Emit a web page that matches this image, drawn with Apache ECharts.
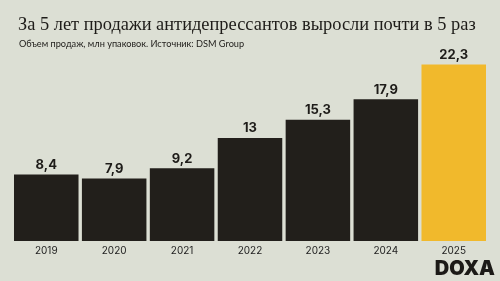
<!DOCTYPE html>
<html><head><meta charset="utf-8">
<script src="https://cdn.jsdelivr.net/npm/echarts@6/dist/echarts.min.js"></script>
<style>html,body{margin:0;padding:0;background:#dcdfd4;}#c{width:500px;height:281px;}</style>
</head><body><div id="c"></div>
<script>
const categories = ['2019','2020','2021','2022','2023','2024','2025'];
const values = [8.4, 7.9, 9.2, 13, 15.3, 17.9, 22.3];
const labels = ['8,4','7,9','9,2','13','15,3','17,9','22,3'];
const title = 'За 5 лет продажи антидепрессантов выросли почти в 5 раз';
const subtitle = 'Объем продаж, млн упаковок. Источник: DSM Group';

const chart = echarts.init(document.getElementById('c'), null, {renderer:'canvas'});
chart.setOption({
  backgroundColor: '#dcdfd4',
  animation: false,
  title: [
    {text: title, left: 13, top: 11, textStyle: {fontFamily: 'Liberation Serif', fontWeight: 'normal', fontSize: 18.4, color: '#1e1c19'}},
    {text: subtitle, left: 14, top: 35, textStyle: {fontFamily: 'Lato', fontWeight: 'normal', fontSize: 9.2, color: '#1e1c19'}}
  ],
  grid: {left: 12.3, right: 12.3, top: 43, bottom: 40},
  xAxis: {type: 'category', data: categories,
    axisLine: {show: false}, axisTick: {show: false},
    axisLabel: {color: '#222', fontSize: 10, fontFamily: 'Inter', margin: 5}},
  yAxis: {type: 'value', min: 0, max: 25, show: false, splitLine: {show: false}},
  series: [{
    type: 'bar', barCategoryGap: '5%',
    data: values.map((v, i) => ({value: v, itemStyle: {color: i === values.length - 1 ? '#f1b92c' : '#221f1b'}})),
    label: {show: true, position: 'top', distance: 3,
      formatter: p => labels[p.dataIndex],
      fontFamily: 'Inter', fontWeight: 'bold', fontSize: 13, color: '#1e1c19'}
  }],
  graphic: [{type: 'text', right: 5, top: 259,
    style: {text: 'DOXA', font: '900 20px Inter', fill: '#1c1a17'}}]
});
</script></body></html>
